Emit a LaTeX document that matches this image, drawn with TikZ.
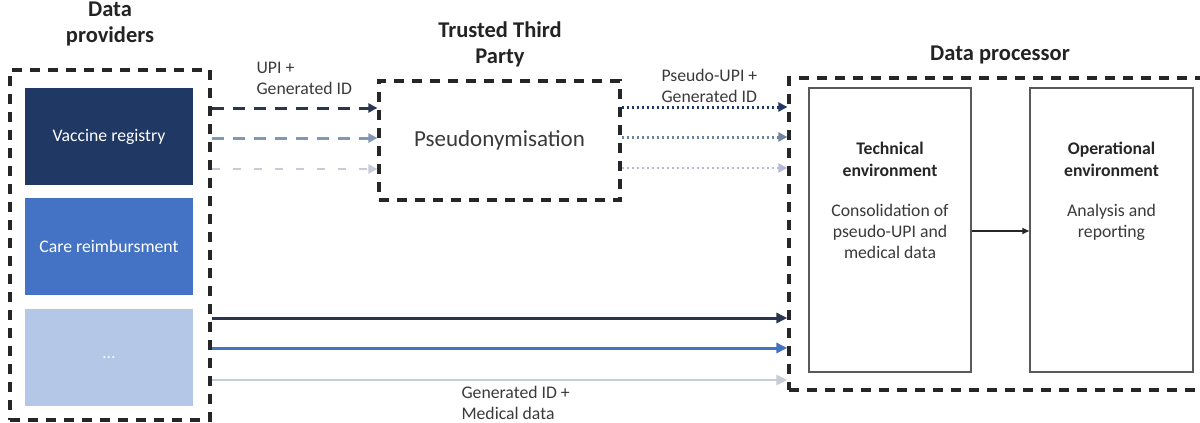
\documentclass[tikz,border=0pt]{standalone}
\usepackage{fontspec}
\setmainfont{Carlito}
\usetikzlibrary{arrows.meta}
\definecolor{navy}{HTML}{1F3864}
\definecolor{midblue}{HTML}{4472C4}
\definecolor{lightblue}{HTML}{B4C7E7}
\definecolor{darkarrow}{HTML}{2A3550}
\definecolor{grayblue}{HTML}{8497B0}
\definecolor{palegray}{HTML}{C5CCD8}
\definecolor{lavender}{HTML}{B8B8DC}
\definecolor{txtgray}{HTML}{3A3A3A}
\tikzset{
  groupbox/.style={draw=black!85, line width=3.2pt, dash pattern=on 10pt off 8pt, minimum width=#1},
  srcbox/.style={draw=none, fill=#1, minimum width=168pt, minimum height=97pt, text=white, font=\fontsize{17.7}{22}\selectfont},
  envbox/.style={draw=black!65, line width=1.5pt, fill=white, minimum width=162pt, minimum height=284pt},
  titletext/.style={font=\fontsize{22.5}{26}\selectfont\bfseries, align=center, text=txtgray!60!black},
  smalltext/.style={font=\fontsize{17.7}{21}\selectfont, text=txtgray},
  dasharr/.style={line width=3pt, dash pattern=on 12pt off 9pt, -{Triangle[length=9pt,width=9pt]}},
  dotarr/.style={line width=3pt, dash pattern=on 2.6pt off 2.4pt, -{Triangle[length=9pt,width=9pt]}},
  solidarr/.style={line width=3pt, -{Triangle[length=11pt,width=10pt]}},
}
\begin{document}
\begin{tikzpicture}[x=1pt,y=-1pt]
\useasboundingbox (0,0) rectangle (1200,423);

% titles
\node[titletext] (tdp) at (110,24) {Data\\providers};
\node[titletext] (tttp) at (500,44) {Trusted Third\\Party};
\node[titletext] (tdproc) at (1000,55) {Data processor};

% group boxes
\node[groupbox=200pt, minimum height=350pt] (dp) at (110,245) {};
\node[groupbox=241pt, minimum height=119pt, font=\fontsize{23}{27}\selectfont, text=txtgray] (ttp) at (499.5,140.5) {Pseudonymisation};
\node[groupbox=430pt, minimum height=312pt] (dproc) at (1004,234) {};

% source boxes
\node[srcbox=navy] (vacc) at (109,136.5) {Vaccine registry};
\node[srcbox=midblue] (care) at (109,246) {Care reimbursment};
\node[srcbox=lightblue, text=white!90!lightblue] (other) at (109,357.5) {\dots};

% environment boxes
\node[envbox] (tech) at (890,230) {};
\node[envbox, minimum width=163pt] (oper) at (1111.5,230) {};
\node[smalltext, font=\fontsize{17.7}{22}\selectfont\bfseries, align=center, text=black!85] (techt) at (890,159) {Technical\\environment};
\node[smalltext, align=center, anchor=north] (techd) at (890,201) {Consolidation of\\pseudo-UPI and\\medical data};
\node[smalltext, font=\fontsize{17.7}{22}\selectfont\bfseries, align=center, text=black!85] (opert) at (1111.5,159) {Operational\\environment};
\node[smalltext, align=center, anchor=north] (operd) at (1111.5,201) {Analysis and\\reporting};
\draw[line width=1.6pt, black!85, -{Triangle[length=7pt,width=6pt]}] (tech.east |- 0,231) -- (oper.west |- 0,231);

% providers -> TTP (dashed)
\draw[dasharr, darkarrow] (dp.east |- 0,108) -- (ttp.west |- 0,108);
\draw[dasharr, grayblue] (dp.east |- 0,138) -- (ttp.west |- 0,138);
\draw[dasharr, palegray, line width=2.2pt, dash pattern=on 8pt off 13pt] (dp.east |- 0,169) -- (ttp.west |- 0,169);
\node[smalltext, align=left, anchor=west] (lupi) at (253,78) {UPI +\\Generated ID};

% TTP -> processor (dotted)
\draw[dotarr, navy] (ttp.east |- 0,107) -- (dproc.west |- 0,107);
\draw[dotarr, grayblue!80!navy] (ttp.east |- 0,137) -- (dproc.west |- 0,137);
\draw[dotarr, lavender, line width=2.2pt] (ttp.east |- 0,168) -- (dproc.west |- 0,168);
\node[smalltext, align=left, anchor=west] (lpupi) at (658,86) {Pseudo-UPI +\\Generated ID};

% providers -> processor (solid)
\draw[solidarr, darkarrow] (dp.east |- 0,318) -- (dproc.west |- 0,318);
\draw[solidarr, midblue] (dp.east |- 0,348) -- (dproc.west |- 0,348);
\draw[solidarr, palegray, line width=2.4pt] (dp.east |- 0,380) -- (dproc.west |- 0,380);
\node[smalltext, align=left, anchor=north west] (lgen) at (458,383) {Generated ID +\\Medical data};
\end{tikzpicture}
\end{document}
